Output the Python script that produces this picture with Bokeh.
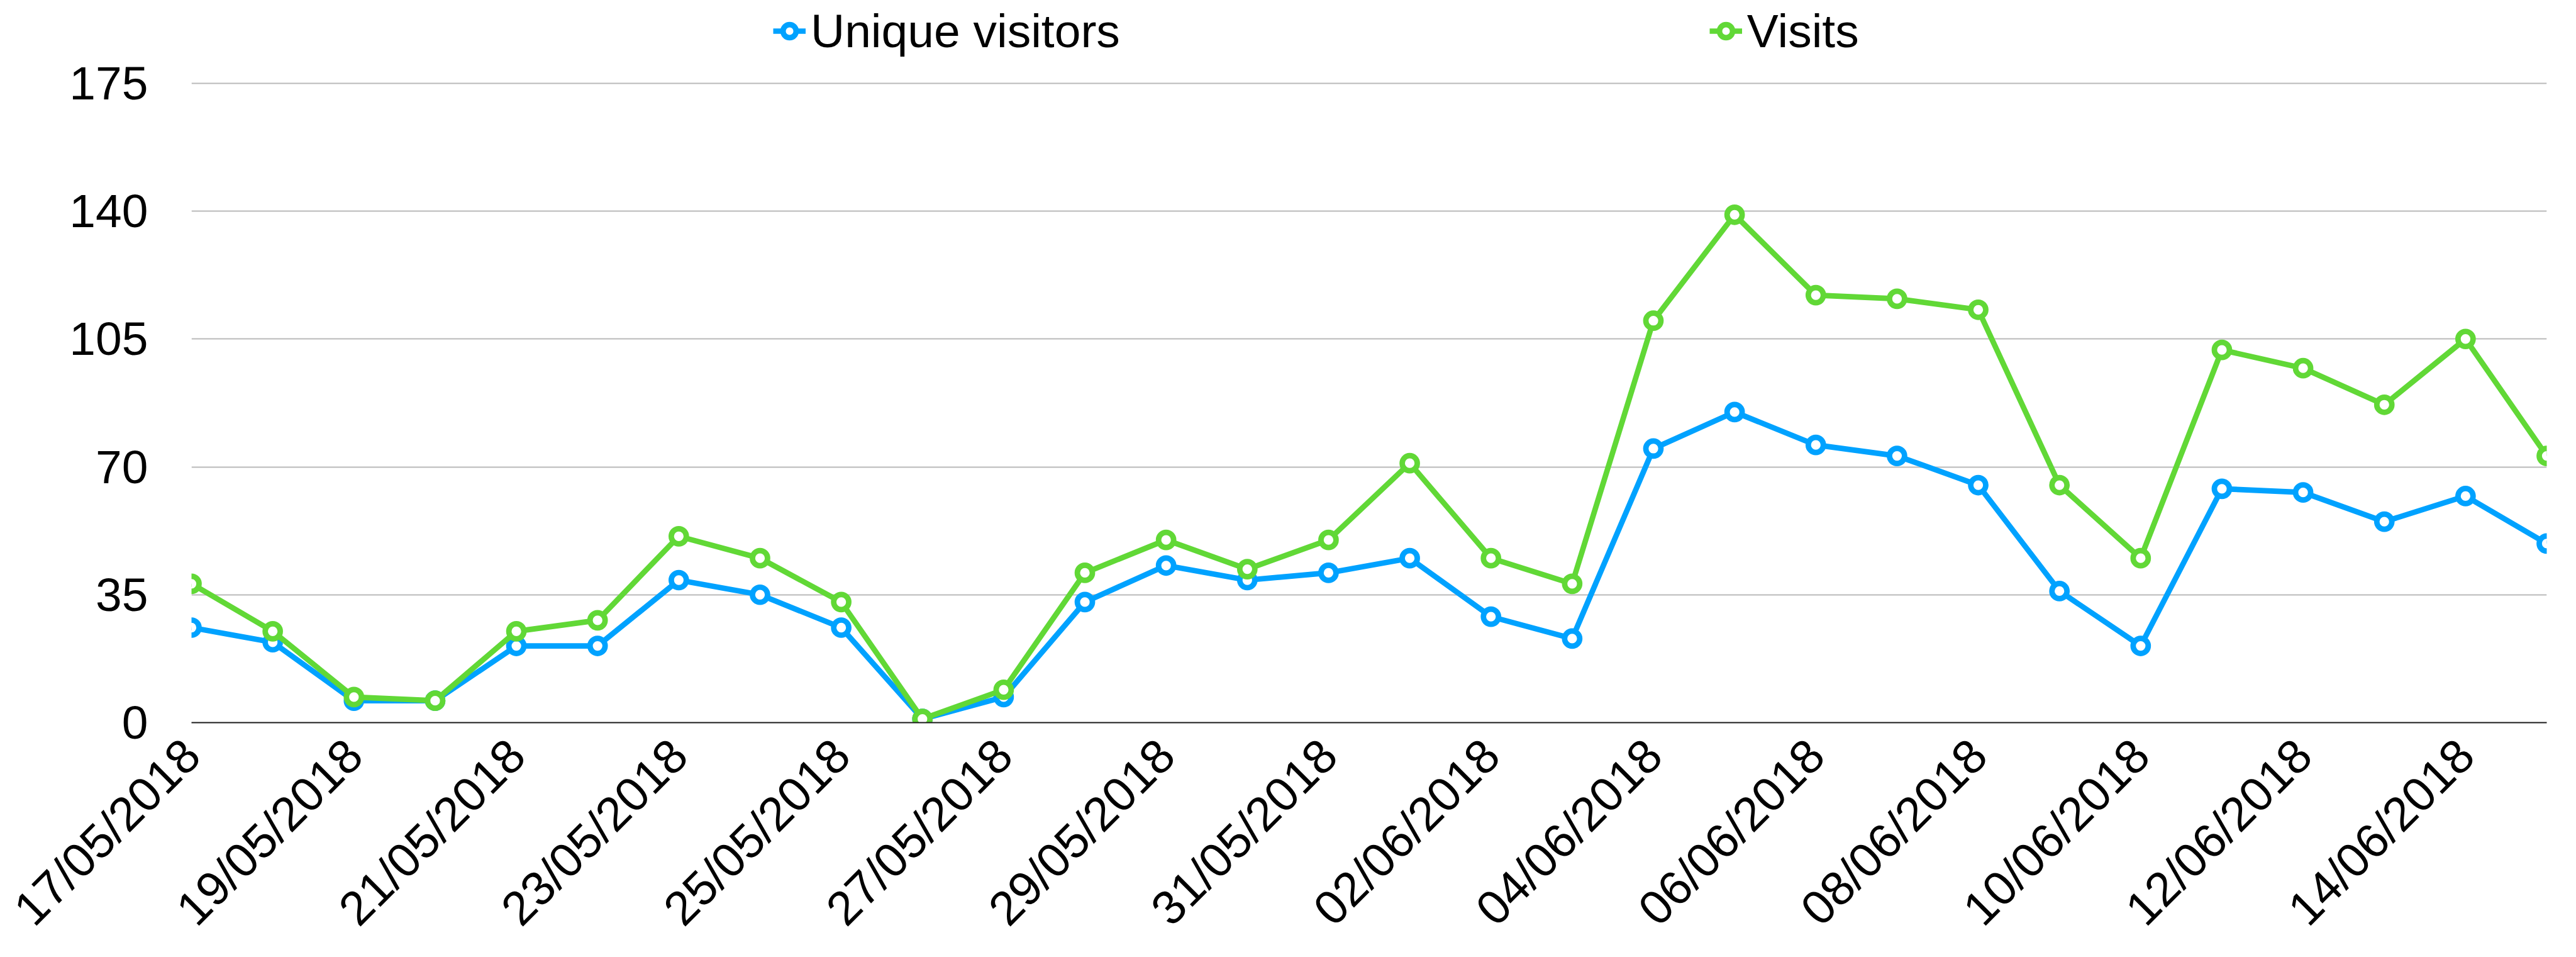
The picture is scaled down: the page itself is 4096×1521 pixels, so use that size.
import math
from bokeh.plotting import figure
from bokeh.models import Range1d, FixedTicker, Legend, LegendItem
from bokeh.embed import file_html
from bokeh.resources import INLINE

dates = ["17/05/2018", "18/05/2018", "19/05/2018", "20/05/2018", "21/05/2018",
         "22/05/2018", "23/05/2018", "24/05/2018", "25/05/2018", "26/05/2018",
         "27/05/2018", "28/05/2018", "29/05/2018", "30/05/2018", "31/05/2018",
         "01/06/2018", "02/06/2018", "03/06/2018", "04/06/2018", "05/06/2018",
         "06/06/2018", "07/06/2018", "08/06/2018", "09/06/2018", "10/06/2018",
         "11/06/2018", "12/06/2018", "13/06/2018", "14/06/2018", "15/06/2018"]
unique_visitors = [26, 22, 6, 6, 21, 21, 39, 35, 26, 1, 7, 33, 43, 39, 41,
                   45, 29, 23, 75, 85, 76, 73, 65, 36, 21, 64, 63, 55, 62, 49]
visits = [38, 25, 7, 6, 25, 28, 51, 45, 33, 1, 9, 41, 50, 42, 50,
          71, 45, 38, 110, 139, 117, 116, 113, 65, 45, 102, 97, 87, 105, 73]
y_ticks = [0, 35, 70, 105, 140, 175]
x_tick_idx = list(range(0, 30, 2))

BLUE = "#00A2FF"
GREEN = "#61D836"
FONT = "Liberation Sans"

W, H = 4094, 1520
FRAME_LEFT, FRAME_RIGHT = 304, 4049
Y_TOP_PX, Y_BOTTOM_PX = 131.8, 1148.4   # pixel rows of 175 and 0
px_per_unit = (Y_BOTTOM_PX - Y_TOP_PX) / 175
y_end = 175 + Y_TOP_PX / px_per_unit   # frame reaches the top edge, legend lives inside it

p = figure(width=W, height=H, output_backend="svg", toolbar_location=None,
           x_range=Range1d(0, len(dates) - 1), y_range=Range1d(0, y_end),
           min_border_left=FRAME_LEFT, min_border_right=W - FRAME_RIGHT,
           min_border_top=0, min_border_bottom=int(round(H - Y_BOTTOM_PX)))
p.outline_line_color = None
p.background_fill_color = "white"

x = list(range(len(dates)))

LW = 8.7
r1l = p.line(x, unique_visitors, line_color=BLUE, line_width=LW)
r1s = p.scatter(x, unique_visitors, marker="circle", size=24, fill_color="white",
                line_color=BLUE, line_width=LW)
r2l = p.line(x, visits, line_color=GREEN, line_width=LW)
r2s = p.scatter(x, visits, marker="circle", size=24, fill_color="white",
                line_color=GREEN, line_width=LW)

# axes
p.xaxis.ticker = FixedTicker(ticks=x_tick_idx)
p.xaxis.major_label_overrides = {i: dates[i] for i in x_tick_idx}
p.xaxis.major_label_orientation = math.pi / 4
p.xaxis.axis_line_color = "#1a1a1a"
p.xaxis.axis_line_width = 2
p.xaxis.major_tick_out = 0
p.xaxis.major_tick_in = 0
p.xaxis.minor_tick_out = 0
p.xaxis.minor_tick_in = 0
p.xaxis.major_label_standoff = 39
p.xaxis.major_label_text_font = FONT
p.xaxis.major_label_text_font_size = "76px"
p.xaxis.major_label_text_color = "black"

p.yaxis.ticker = FixedTicker(ticks=y_ticks)
p.yaxis.axis_line_color = None
p.yaxis.major_tick_out = 0
p.yaxis.major_tick_in = 0
p.yaxis.minor_tick_out = 0
p.yaxis.minor_tick_in = 0
p.yaxis.major_label_standoff = 69
p.yaxis.major_label_text_font = FONT
p.yaxis.major_label_text_font_size = "75px"
p.yaxis.major_label_text_color = "black"

p.xgrid.grid_line_color = None
p.ygrid.grid_line_color = "#BABABA"
p.ygrid.grid_line_width = 1.8

legend = Legend(items=[LegendItem(label="Unique visitors", renderers=[r1l, r1s]),
                       LegendItem(label="Visits", renderers=[r2l, r2s])],
                orientation="horizontal", location=(925, 1056),
                glyph_width=52, glyph_height=52, label_standoff=8,
                spacing=937, padding=0, margin=0,
                border_line_color=None, background_fill_alpha=0,
                label_text_font=FONT, label_text_font_size="75px",
                label_text_color="black")
p.add_layout(legend, "center")

open("out.html", "w").write(file_html(p, INLINE))
